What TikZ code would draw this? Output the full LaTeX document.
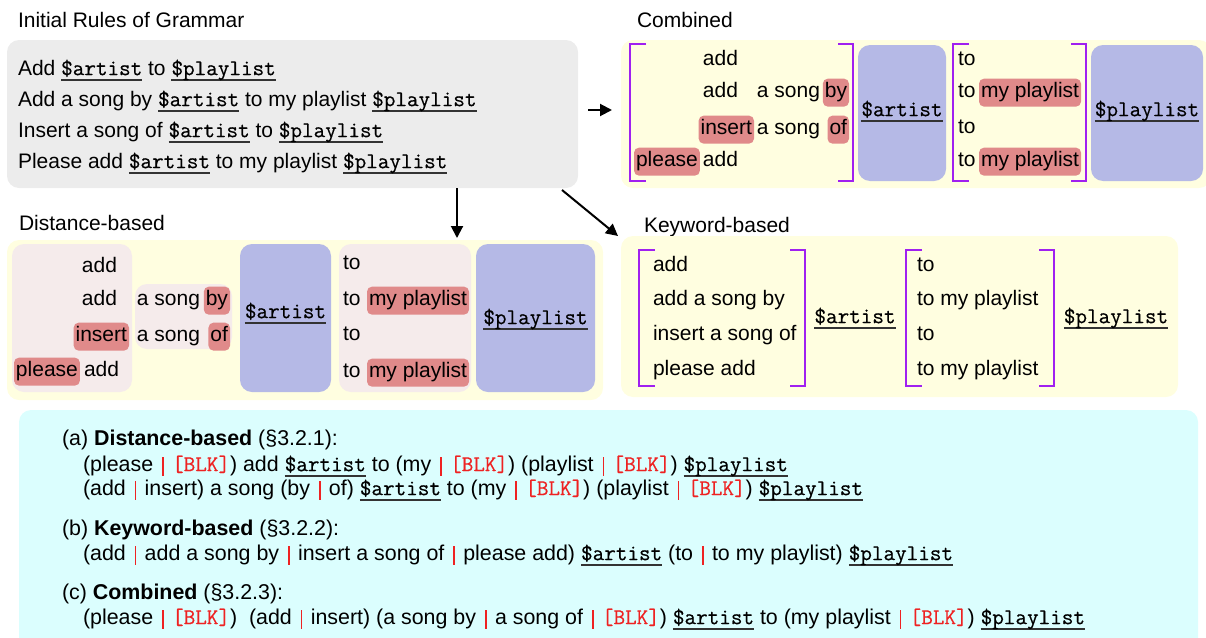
\documentclass[tikz,border=0pt]{standalone}
\usepackage{fontspec}
\setmainfont{Liberation Sans}
\newfontfamily\varfont[FakeBold=0.5]{Latin Modern Mono}
\usetikzlibrary{arrows.meta}

\definecolor{graybg}{HTML}{ECECEC}
\definecolor{yellowbg}{HTML}{FFFEE0}
\definecolor{pinkbg}{HTML}{F5EBEB}
\definecolor{bluebg}{HTML}{B5B9E6}
\definecolor{hlred}{HTML}{E08A8A}
\definecolor{cyanbg}{HTML}{DBFEFE}
\definecolor{brpurple}{HTML}{A020F0}
\definecolor{blkred}{HTML}{EE2222}
\definecolor{ulgray}{HTML}{333333}

\newcommand\fs{\fontsize{21}{25}\selectfont}
\newcommand\fsb{\fontsize{21.4}{25}\selectfont}
\newcommand\vfs{\fontsize{22.5}{25}\selectfont}
% slot variable: monospaced, with a thick underline
\newcommand\var[1]{{\setbox0\hbox{\varfont\vfs\$#1}\rlap{\textcolor{ulgray}{\rule[-5.5pt]{\wd0}{1.3pt}}}\box0}}
\newcommand\blk{\textcolor{blkred}{\varfont\vfs[BLK]}}
\newcommand\alt{\hspace{8.8pt}\textcolor{blkred}{\rule[-4.5pt]{1.8pt}{18.5pt}}\hspace{8.3pt}}

\tikzset{
  wtxt/.style={inner sep=0pt, outer sep=0pt, font=\fs, yshift=-4.5pt},
  gline/.style={wtxt, font=\fsb, anchor=mid west},
  hl/.style={wtxt, fill=hlred, rounded corners=5pt, inner xsep=2pt,
    minimum height=28pt, text height=14.5pt, text depth=5.5pt},
  panel/.style={inner sep=0pt, outer sep=0pt, rounded corners=12pt, anchor=north west},
  brk/.style={draw=brpurple, line width=2pt},
  arr/.style={-{Triangle[length=12pt,width=12pt]}, line width=2pt},
}

\begin{document}
\begin{tikzpicture}[x=1pt, y=-1pt]
\clip (0,0) rectangle (1206,637);
\useasboundingbox (0,0) rectangle (1206,637);

% ---------- initial grammar ----------
\node[wtxt, anchor=mid west] (tinit) at (18,20) {Initial Rules of Grammar};
\node[panel, fill=graybg, minimum width=571pt, minimum height=148pt] (rules) at (7,40) {};
\node[wtxt, anchor=mid west] (r1) at (18,68) {Add \var{artist} to \var{playlist}};
\node[wtxt, anchor=mid west] (r2) at (18,99) {Add a song by \var{artist} to my playlist \var{playlist}};
\node[wtxt, anchor=mid west] (r3) at (18,130) {Insert a song of \var{artist} to \var{playlist}};
\node[wtxt, anchor=mid west] (r4) at (18,161) {Please add \var{artist} to my playlist \var{playlist}};

% ---------- combined ----------
\node[wtxt, anchor=mid west] (tcomb) at (637,20) {Combined};
\node[panel, fill=yellowbg, minimum width=590pt, minimum height=148pt] (comb) at (621,40) {};
\node[panel, fill=bluebg, minimum width=88pt, minimum height=136pt] (cbA) at (858,45) {};
\node[panel, fill=bluebg, minimum width=112pt, minimum height=136pt] (cbP) at (1091,45) {};
\draw[brk] (646,44) -- (630,44) -- (630,181) -- (646,181);
\draw[brk] (838,44) -- (853,44) -- (853,181) -- (838,181);
\draw[brk] (969,44) -- (953,44) -- (953,181) -- (969,181);
\draw[brk] (1071,44) -- (1086,44) -- (1086,181) -- (1071,181);
\node[wtxt, anchor=mid east] (ca1) at (738,58) {add};
\node[wtxt, anchor=mid east] (ca2) at (738,90) {add};
\node[wtxt, anchor=mid east] (cs2) at (820,90) {a song};
\node[hl, anchor=mid east] (cby) at (849,90) {by};
\node[hl, anchor=mid east] (cins) at (754,127) {insert};
\node[wtxt, anchor=mid east] (cs3) at (820,127) {a song};
\node[hl, anchor=mid east] (cof) at (849,127) {of};
\node[hl, anchor=mid west] (cpl) at (634,159) {please};
\node[wtxt, anchor=mid east] (ca4) at (738,159) {add};
\node[wtxt, anchor=mid] (cart) at (902,109) {\var{artist}};
\node[wtxt, anchor=mid west] (ct1) at (958,58) {to};
\node[wtxt, anchor=mid west] (ct2) at (958,90) {to};
\node[hl, anchor=mid west] (cmp2) at (979,90) {my playlist};
\node[wtxt, anchor=mid west] (ct3) at (958,126) {to};
\node[wtxt, anchor=mid west] (ct4) at (958,159) {to};
\node[hl, anchor=mid west] (cmp4) at (979,159) {my playlist};
\node[wtxt, anchor=mid] (cpla) at (1147,109) {\var{playlist}};

% ---------- distance-based ----------
\node[wtxt, anchor=mid west] (tdist) at (19,223) {Distance-based};
\node[panel, fill=yellowbg, minimum width=596pt, minimum height=160pt] (dist) at (7,240) {};
\node[panel, fill=pinkbg, minimum width=120pt, minimum height=148pt] (dp1) at (12,244) {};
\node[panel, fill=pinkbg, minimum width=97pt, minimum height=65pt] (dp2) at (135,284) {};
\node[panel, fill=bluebg, minimum width=91pt, minimum height=148pt] (dbA) at (240,244) {};
\node[panel, fill=pinkbg, minimum width=132pt, minimum height=148pt] (dp3) at (339,244) {};
\node[panel, fill=bluebg, minimum width=119pt, minimum height=148pt] (dbP) at (476,244) {};
\node[wtxt, anchor=mid east] (da1) at (117,265) {add};
\node[wtxt, anchor=mid east] (da2) at (117,298) {add};
\node[hl, anchor=mid east] (dins) at (129,334) {insert};
\node[hl, anchor=mid west] (dpl) at (14,369) {please};
\node[wtxt, anchor=mid west] (da4) at (84,369) {add};
\node[wtxt, anchor=mid east] (ds2) at (200,298) {a song};
\node[hl, anchor=mid east] (dby) at (230,298) {by};
\node[wtxt, anchor=mid east] (ds3) at (200,334) {a song};
\node[hl, anchor=mid east] (dof) at (230,334) {of};
\node[wtxt, anchor=mid] (dart) at (285.5,311) {\var{artist}};
\node[wtxt, anchor=mid west] (dt1) at (343,262) {to};
\node[wtxt, anchor=mid west] (dt2) at (343,298) {to};
\node[hl, anchor=mid west] (dmp2) at (367,298) {my playlist};
\node[wtxt, anchor=mid west] (dt3) at (343,333) {to};
\node[wtxt, anchor=mid west] (dt4) at (343,370) {to};
\node[hl, anchor=mid west] (dmp4) at (367,370) {my playlist};
\node[wtxt, anchor=mid] (dpla) at (535.5,317) {\var{playlist}};

% ---------- keyword-based ----------
\node[wtxt, anchor=mid west] (tkw) at (644,225) {Keyword-based};
\node[panel, fill=yellowbg, minimum width=557pt, minimum height=161pt] (kw) at (621,236) {};
\draw[brk] (655,250) -- (639,250) -- (639,386) -- (655,386);
\draw[brk] (790,250) -- (805,250) -- (805,386) -- (790,386);
\draw[brk] (922,250) -- (906,250) -- (906,386) -- (922,386);
\draw[brk] (1039,250) -- (1054,250) -- (1054,386) -- (1039,386);
\node[wtxt, anchor=mid west] (k1) at (653,264) {add};
\node[wtxt, anchor=mid west] (k2) at (653,298) {add a song by};
\node[wtxt, anchor=mid west] (k3) at (653,333) {insert a song of};
\node[wtxt, anchor=mid west] (k4) at (653,368) {please add};
\node[wtxt, anchor=mid] (kart) at (855,316) {\var{artist}};
\node[wtxt, anchor=mid west] (kt1) at (917,264) {to};
\node[wtxt, anchor=mid west] (kt2) at (917,298) {to my playlist};
\node[wtxt, anchor=mid west] (kt3) at (917,333) {to};
\node[wtxt, anchor=mid west] (kt4) at (917,368) {to my playlist};
\node[wtxt, anchor=mid] (kpla) at (1116,316) {\var{playlist}};

% ---------- arrows ----------
\coordinate (dn) at (457,238);
\draw[arr] (rules.south -| dn) -- (dn);
\draw[arr] ([xshift=-16pt,yshift=-2pt]rules.south east) -- ([xshift=-3pt]kw.north west);
\draw[arr] ([xshift=10pt,yshift=4pt]rules.east) -- ([xshift=-9pt,yshift=4pt]comb.west);

% ---------- resulting grammars ----------
\node[panel, fill=cyanbg, minimum width=1179pt, minimum height=260pt] (res) at (19,410) {};
\node[gline] (ga) at (62,438) {(a) \textbf{Distance-based} (§3.2.1):};
\node[gline] (ga1) at (83,464) {(please\alt\blk) add \var{artist} to (my\alt\blk) (playlist\alt\blk) \var{playlist}};
\node[gline] (ga2) at (83,488) {(add\alt insert) a song (by\alt of) \var{artist} to (my\alt\blk) (playlist\alt\blk) \var{playlist}};
\node[gline] (gb) at (62,528) {(b) \textbf{Keyword-based} (§3.2.2):};
\node[gline] (gb1) at (83,553) {(add\alt add a song by\alt insert a song of\alt please add) \var{artist} (to\alt to my playlist) \var{playlist}};
\node[gline] (gc) at (62,592) {(c) \textbf{Combined} (§3.2.3):};
\node[gline] (gc1) at (83,617) {(please\alt\blk)\ \ (add\alt insert) (a song by\alt a song of\alt\blk) \var{artist} to (my playlist\alt\blk) \var{playlist}};
\end{tikzpicture}
\end{document}
